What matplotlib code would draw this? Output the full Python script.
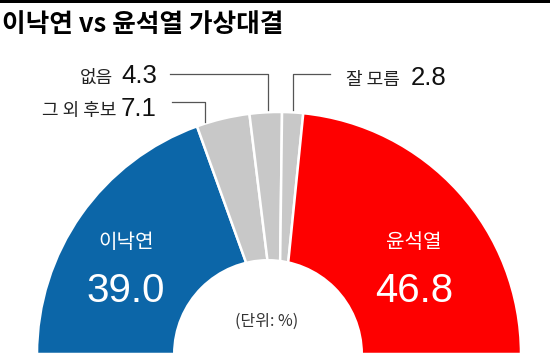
import matplotlib
matplotlib.use("Agg")
import matplotlib.pyplot as plt
from matplotlib import font_manager
from matplotlib.patches import Wedge, Circle, Rectangle

# -----------------------------------------------------------------------------
# Data
# -----------------------------------------------------------------------------
labels = ["이낙연", "그 외 후보", "없음", "잘 모름", "윤석열"]
values = [39.0, 7.1, 4.3, 2.8, 46.8]
value_text = ["39.0", "7.1", "4.3", "2.8", "46.8"]
colors = ["#0c66a8", "#c8c8c8", "#c8c8c8", "#c8c8c8", "#fe0000"]

TITLE = "이낙연 vs 윤석열 가상대결"
UNIT = "(단위: %)"

# -----------------------------------------------------------------------------
# Fonts
# -----------------------------------------------------------------------------
KR = "Noto Sans CJK KR"
narrow = "Liberation Sans"
big_size = 29
for cand in ("Liberation Sans Narrow", "DejaVu Sans Condensed"):
    try:
        font_manager.findfont(cand, fallback_to_default=False)
        narrow = cand
        big_size = 32 if cand.endswith("Narrow") else 29
        break
    except ValueError:
        continue

plt.rcParams["font.family"] = [KR, "DejaVu Sans"]

W, H = 550, 354
fig = plt.figure(figsize=(W / 100, H / 100), dpi=100, facecolor="white")
ax = fig.add_axes([0, 0, 1, 1])
ax.set_xlim(0, W)
ax.set_ylim(0, H)
ax.axis("off")


def Y(y_px):
    """Pixel row from the top -> data y."""
    return H - y_px


# top rule
ax.add_patch(Rectangle((0, Y(3)), W, 3, color="black", lw=0))
ax.text(2, Y(24), TITLE, fontsize=18.5, fontweight="heavy", color="black",
        ha="left", va="center")

# -----------------------------------------------------------------------------
# Half donut
# -----------------------------------------------------------------------------
CX, R_OUT = 279, 242
HOLE_CX, R_IN = 268, 95
total = sum(values)
start = 180.0
for val, col in zip(values, colors):
    span = 180.0 * val / total
    ax.add_patch(Wedge((CX, 0), R_OUT, start - span, start, facecolor=col,
                       edgecolor="white", linewidth=1.8))
    start -= span
ax.add_patch(Circle((HOLE_CX, 0), R_IN, color="white", lw=0, zorder=3))

ax.text(267, Y(321), UNIT, fontsize=11.5, color="#333333", ha="center",
        va="center", zorder=4)

# big labels inside the coloured arcs
big = [(0, 126), (4, 414)]
for i, x in big:
    ax.text(x, Y(243), labels[i], fontsize=14.5, color="white", ha="center",
            va="center")
    ax.text(x, Y(302), value_text[i], fontsize=big_size, color="white",
            ha="center", va="baseline", family=narrow)

# small labels with leader lines
LINE = "#555555"
small = [
    # index, number right x, baseline, name right x, leader polyline
    (1, 157, 116, 117, [(172, 102), (205, 102), (205, 122)]),
    (2, 157, 83, 113, [(170, 74), (268, 74), (268, 110)]),
]
for i, xr, base, nx, pts in small:
    ax.text(xr, Y(base), value_text[i], fontsize=18.5, color="#111111",
            ha="right", va="baseline", family="Liberation Sans")
    ax.text(nx, Y(base), labels[i], fontsize=13, color="#222222",
            ha="right", va="baseline")
    ax.plot([p[0] for p in pts], [Y(p[1]) for p in pts], color=LINE, lw=0.9)

ax.plot([330, 293, 293], [Y(74), Y(74), Y(110)], color=LINE, lw=0.9)
ax.text(346, Y(85), labels[3], fontsize=13, color="#222222", ha="left",
        va="baseline")
ax.text(446, Y(85), value_text[3], fontsize=18.5, color="#111111",
        ha="right", va="baseline", family="Liberation Sans")

fig.savefig("out.png", dpi=100, facecolor="white")
